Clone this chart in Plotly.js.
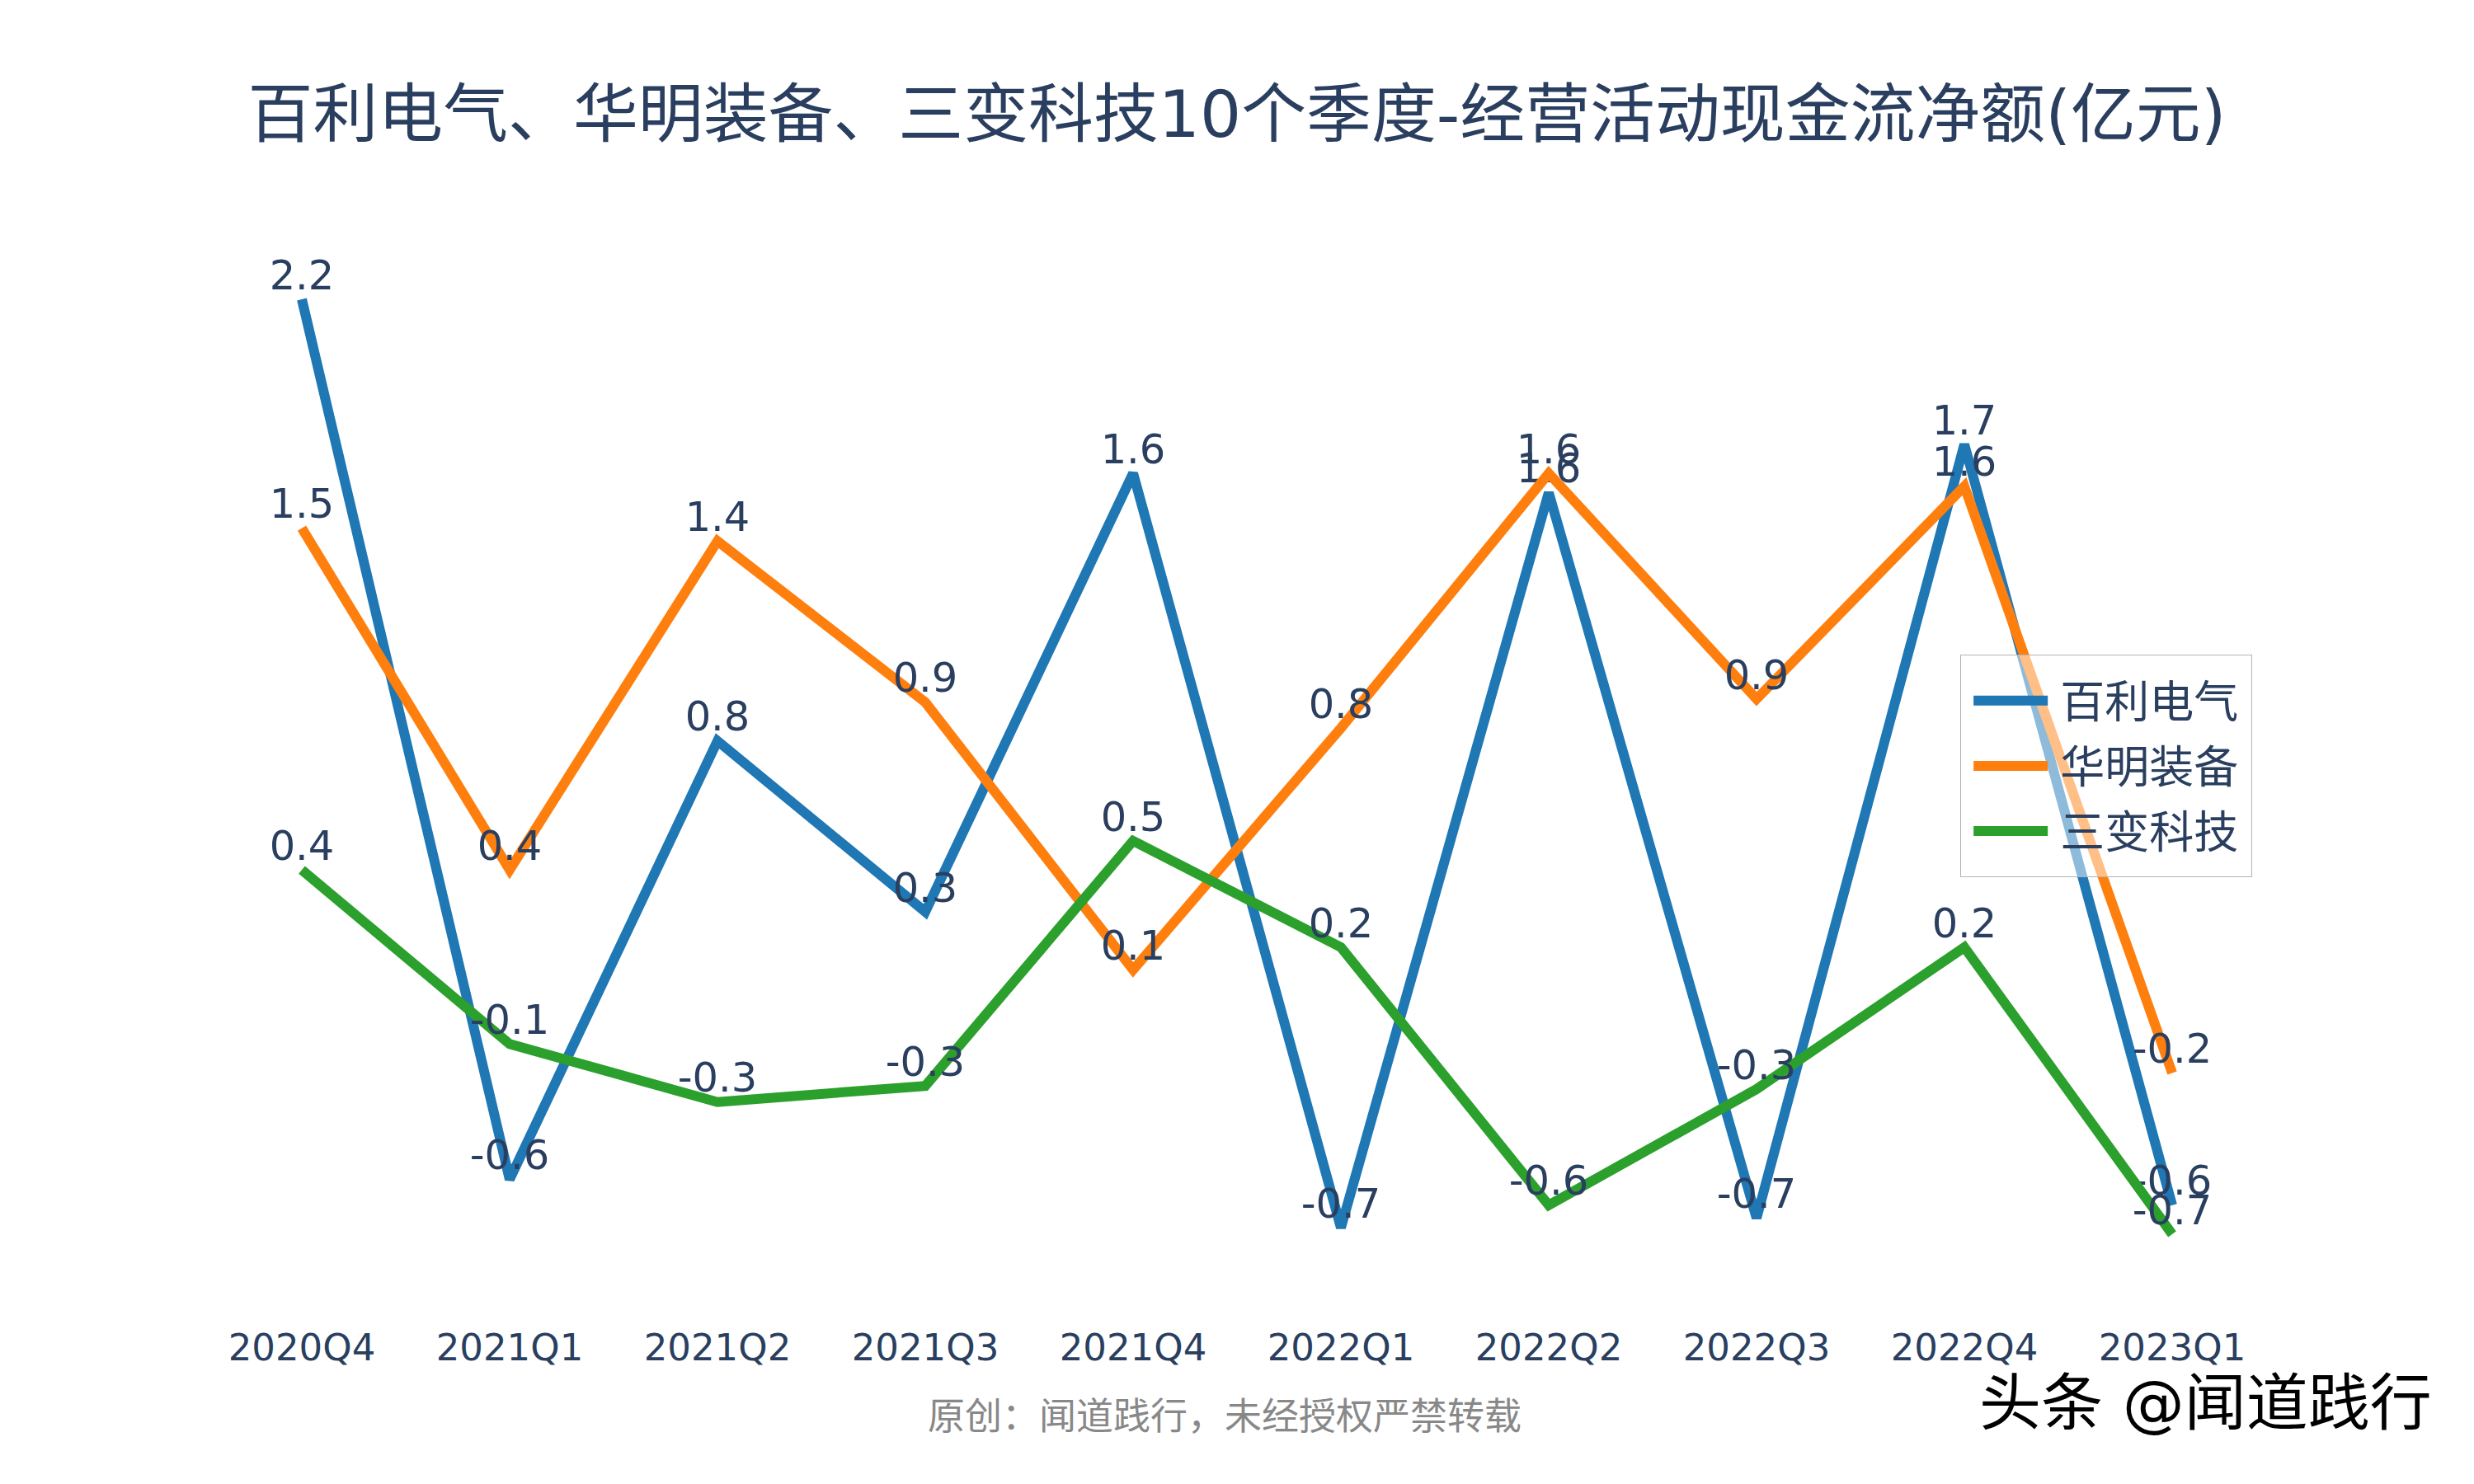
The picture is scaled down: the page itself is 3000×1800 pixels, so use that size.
<!DOCTYPE html>
<html>
<head>
<meta charset="utf-8">
<script src="https://cdn.plot.ly/plotly-3.0.1.min.js"></script>
<style>
  html, body { margin: 0; padding: 0; background: #ffffff; width: 3000px; height: 1800px; overflow: hidden; }
  #wrap { width: 1000px; height: 600px; transform: scale(3); transform-origin: 0 0; }
</style>
</head>
<body>
<div id="wrap"><div id="chart"></div></div>
<script>
// ---- data (亿元) ----
const quarters = ['2020Q4','2021Q1','2021Q2','2021Q3','2021Q4','2022Q1','2022Q2','2022Q3','2022Q4','2023Q1'];
const seriesNames = ['百利电气','华明装备','三变科技'];
const baili   = [2.17, -0.56, 0.80, 0.27, 1.63, -0.71, 1.57, -0.68, 1.72, -0.64];
const huaming = [1.46, 0.40, 1.42, 0.92, 0.09, 0.84, 1.63, 0.93, 1.59, -0.23];
const sanbian = [0.40, -0.14, -0.32, -0.27, 0.49, 0.16, -0.64, -0.28, 0.16, -0.73];
const colors = ['#1f77b4', '#ff7f0e', '#2ca02c'];

const titleText = '百利电气、华明装备、三变科技10个季度-经营活动现金流净额(亿元)';
const sourceNote = '原创：闻道践行，未经授权严禁转载';
const watermark = '头条 @闻道践行';

const FONT = 'DejaVu Sans, "Noto Sans CJK SC", sans-serif';
const INK = '#2a3f5f';

const values = [baili, huaming, sanbian];
const traces = values.map((ys, i) => ({
  type: 'scatter',
  mode: 'lines+text',
  name: seriesNames[i],
  x: quarters,
  y: ys,
  texttemplate: '%{y:.1f}',
  textposition: 'top center',
  textfont: { family: FONT, size: 16.5, color: INK },
  line: { color: colors[i], width: 4 },
  cliponaxis: false
}));

const layout = {
  width: 1000,
  height: 600,
  margin: { l: 80, r: 80, t: 100, b: 80 },
  paper_bgcolor: '#ffffff',
  plot_bgcolor: '#ffffff',
  font: { family: FONT, size: 18, color: INK },
  title: {
    text: titleText,
    font: { family: FONT, size: 26.3, color: INK },
    x: 0.5, xanchor: 'center',
    y: 0.923, yanchor: 'middle'
  },
  xaxis: {
    type: 'category',
    showgrid: false,
    zeroline: false,
    showline: false,
    ticks: '',
    ticklabelstandoff: 14,
    tickfont: { family: FONT, size: 15, color: INK }
  },
  yaxis: {
    showgrid: false,
    zeroline: false,
    showline: false,
    showticklabels: false,
    ticks: ''
  },
  legend: {
    x: 0.848, xanchor: 'left',
    y: 0.608, yanchor: 'top',
    bgcolor: 'rgba(255,255,255,0.5)',
    bordercolor: '#b3b3b3',
    borderwidth: 0.4,
    font: { family: FONT, size: 18, color: INK }
  },
  showlegend: true,
  annotations: [
    {
      text: sourceNote,
      xref: 'paper', yref: 'paper',
      x: 0.494, y: -0.125, xanchor: 'center', yanchor: 'middle',
      showarrow: false,
      font: { family: FONT, size: 15, color: '#888888' }
    },
    {
      text: watermark,
      xref: 'paper', yref: 'paper',
      x: 0.9657, y: -0.113, xanchor: 'center', yanchor: 'middle',
      showarrow: false,
      font: { family: FONT, size: 25, color: '#000000' }
    }
  ]
};

Plotly.newPlot('chart', traces, layout, { displayModeBar: false, staticPlot: true });
</script>
</body>
</html>
